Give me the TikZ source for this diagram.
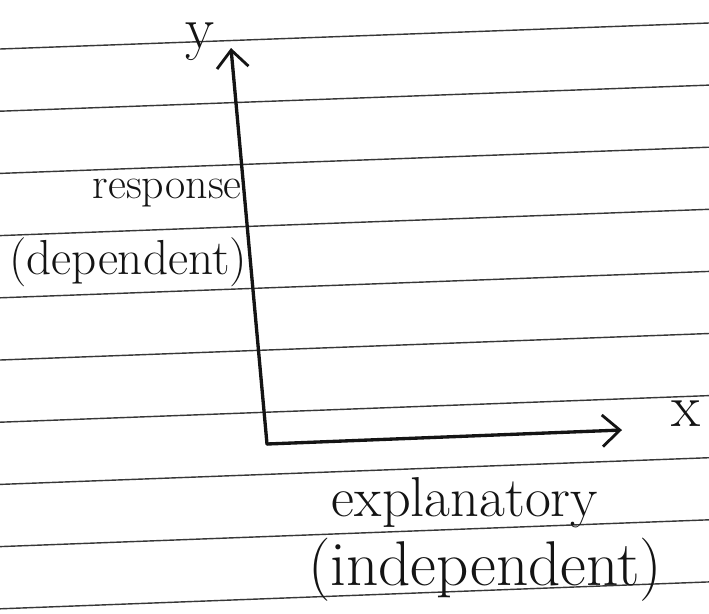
\documentclass[tikz,border=0pt]{standalone}
\usetikzlibrary{arrows.meta}
\begin{document}
\begin{tikzpicture}[x=0.02cm,y=-0.02cm]
  \definecolor{inkcol}{RGB}{20,20,20}
  \definecolor{rulecol}{RGB}{55,55,55}

  \tikzset{
    ruleline/.style={draw=rulecol,line width=0.8pt},
    axisline/.style={draw=inkcol,line width=1.9pt,line cap=round,
      -{Straight Barb[length=10pt,width=18pt,line width=1.6pt]}},
    axislabel/.style={text=inkcol,inner sep=0pt,font=\fontsize{34}{38}\selectfont},
    varlabel/.style={text=inkcol,inner sep=0pt}
  }

  % ---------------- paper ----------------
  \useasboundingbox[fill=white] (0,0) rectangle (709,613);
  \foreach \i in {0,...,9}
    \draw[ruleline] (0,{49+62.2*\i}) -- (709,{23+62.1*\i});

  % ---------------- axes ----------------
  \coordinate (origin) at (267,444);
  \coordinate (ytip) at (231,48);
  \coordinate (xtip) at (622,430);
  \draw[axisline] (origin) -- (ytip);
  \draw[axisline] (origin) -- (xtip);

  \node[axislabel] (ylab) at (200,42) {y};
  \node[axislabel] (xlab) at (686,414) {x};

  % ---------------- variable names ----------------
  \node[varlabel,font=\fontsize{25}{29}\selectfont,anchor=east] (resp) at (242,193) {response};
  \node[varlabel,font=\fontsize{28}{32}\selectfont] (dep) at (128,262) {(dependent)};
  \node[varlabel,font=\fontsize{32}{36}\selectfont] (expl) at (465,503) {explanatory};
  \node[varlabel,font=\fontsize{36}{40}\selectfont] (indep) at (485,570) {(independent)};
\end{tikzpicture}
\end{document}
